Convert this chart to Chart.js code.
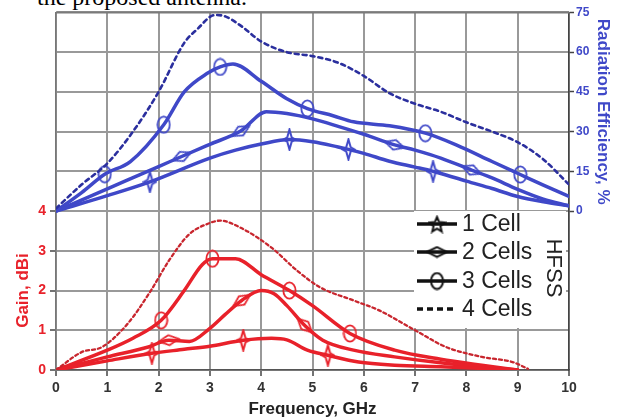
<!DOCTYPE html>
<html><head><meta charset="utf-8">
<script src="https://cdn.jsdelivr.net/npm/chart.js@4.4.1/dist/chart.umd.min.js"></script>
<style>
html,body{margin:0;padding:0;background:#fff;}
#wrap{position:relative;width:622px;height:420px;overflow:hidden;background:#fff;}
#cap{position:absolute;left:37px;top:-15px;font-family:"Liberation Serif","Times New Roman",serif;font-size:24px;line-height:24px;color:#000;white-space:nowrap;}
#c{position:absolute;left:0;top:0;}
</style></head><body>
<div id="wrap"><div id="cap">the proposed antenna.</div><canvas id="c" width="622" height="420"></canvas></div>
<script>
// ---- tick labels ----
const freqTicks = [0,1,2,3,4,5,6,7,8,9,10];
const gainTicks = [0,1,2,3,4];
const effTicks = [0,15,30,45,60,75];
const legendLabels = ['1 Cell','2 Cells','3 Cells','4 Cells'];
const xTitle = 'Frequency, GHz';
const gainTitle = 'Gain, dBi';
const effTitle = 'Radiation Efficiency, %';
const simLabel = 'HFSS';

// ---- Radiation efficiency (%) ----
const effFreq1 = [0, 1, 1.83, 3, 3.5, 4, 4.55, 5, 5.5, 5.7, 6, 6.5, 7, 7.35, 7.5, 8, 8.5, 9, 9.5, 10];
const eff1     = [0, 5.8, 11, 20, 23, 25.3, 27, 26.2, 24.2, 23.3, 21.8, 18.8, 16.6, 15, 14.2, 11.3, 8.5, 5.5, 3.5, 2];
const effMark1 = [1.83, 4.55, 5.7, 7.35];

const effFreq2 = [0, 1, 2, 2.45, 3, 3.6, 4.1, 4.5, 5, 5.5, 6, 6.6, 7, 7.5, 8.1, 8.5, 9, 9.5, 10];
const eff2     = [0, 8.4, 16.8, 20.6, 25.2, 30.2, 37.5, 36.8, 34.8, 32, 29, 25, 23, 20, 15.5, 12.5, 8.2, 4.5, 2];
const effMark2 = [2.45, 3.6, 6.6, 8.1];

const effFreq3 = [0, 0.5, 0.95, 1.45, 2.1, 2.5, 2.95, 3.2, 3.45, 4, 4.5, 4.9, 5.4, 5.8, 6.5, 7.2, 7.8, 8.5, 9.05, 9.5, 10];
const eff3     = [0, 7, 13.9, 18.7, 32.6, 45, 52, 54.4, 55.5, 49, 42.4, 38.7, 36, 33.7, 32.2, 29.4, 25, 18.7, 13.8, 9.8, 5.5];
const effMark3 = [0.95, 2.1, 3.2, 4.9, 7.2, 9.05];

const effFreq4 = [0, 0.5, 1, 1.5, 2, 2.5, 2.75, 3.1, 3.3, 3.6, 4, 4.5, 5, 5.5, 6, 6.5, 7, 7.5, 8, 8.5, 9, 9.5, 10];
const eff4     = [1, 10, 18, 30, 45, 63.5, 68.6, 74, 73.5, 70, 64, 60, 58.5, 56, 51, 44.5, 40.5, 37.5, 33.5, 30, 26, 19.5, 10];

// ---- Gain (dBi) ----
const gainFreq1 = [0, 1, 1.87, 2.5, 3, 3.65, 4.2, 4.5, 4.9, 5.3, 5.9, 6.6, 7.5, 8.3, 9];
const gain1     = [0, 0.23, 0.42, 0.52, 0.6, 0.75, 0.8, 0.76, 0.5, 0.37, 0.2, 0.12, 0.08, 0.04, 0];
const gainMark1 = [1.87, 3.65, 5.3];

const gainFreq2 = [0, 1, 1.8, 2.2, 2.6, 3, 3.3, 3.62, 4, 4.25, 4.5, 4.85, 5.2, 5.8, 6.6, 7.5, 8.3, 9];
const gain2     = [0, 0.33, 0.58, 0.75, 0.72, 1.05, 1.4, 1.75, 2.0, 1.92, 1.62, 1.12, 0.75, 0.5, 0.33, 0.18, 0.08, 0];
const gainMark2 = [2.2, 3.62, 4.85];

const gainFreq3 = [0, 1, 1.5, 2.05, 2.5, 2.85, 3.05, 3.5, 4, 4.55, 5, 5.73, 6.6, 7.5, 8.3, 9];
const gain3     = [0, 0.5, 0.8, 1.25, 2.0, 2.65, 2.8, 2.8, 2.4, 2.0, 1.62, 0.92, 0.5, 0.27, 0.12, 0];
const gainMark3 = [2.05, 3.05, 4.55, 5.73];

const gainFreq4 = [0, 0.5, 0.9, 1.4, 1.85, 2.2, 2.6, 3.0, 3.2, 3.6, 4.2, 4.7, 5.15, 5.8, 6.3, 7.0, 7.6, 8.3, 8.9, 9.2];
const gain4     = [0, 0.45, 0.58, 1.17, 2.0, 2.75, 3.42, 3.7, 3.76, 3.58, 3.08, 2.5, 2.08, 1.75, 1.5, 1.0, 0.58, 0.33, 0.2, 0.03];

// ---- styles ----
const BLUE = '#3f48c8', BLUE_D = '#2b2f9e', RED = '#e8212a', RED_D = '#c8262e';
const GRID = '#999999', AXIS = '#555';
const FONT = '"Liberation Sans", Arial, sans-serif';

function makeMarker(shape, color, lw) {
  const c = document.createElement('canvas');
  let w, h;
  if (shape === 'circle') { w = 15; h = 19; }
  else if (shape === 'diamond') { w = 23; h = 13; }
  else if (shape === 'star4') { w = 15; h = 23; }
  else { w = 19; h = 19; }
  c.width = w; c.height = h;
  const g = c.getContext('2d');
  g.strokeStyle = color; g.lineWidth = lw; g.lineJoin = 'miter';
  g.beginPath();
  const cx = w / 2, cy = h / 2, p = lw / 2 + 0.5;
  if (shape === 'circle') {
    g.ellipse(cx, cy, cx - p, cy - p, 0, 0, Math.PI * 2);
  } else if (shape === 'diamond') {
    g.moveTo(p, cy); g.lineTo(cx, p); g.lineTo(w - p, cy); g.lineTo(cx, h - p); g.closePath();
  } else if (shape === 'star4') {
    const r = 2.2;
    g.moveTo(cx, p); g.lineTo(cx + r, cy - r); g.lineTo(w - p, cy); g.lineTo(cx + r, cy + r);
    g.lineTo(cx, h - p); g.lineTo(cx - r, cy + r); g.lineTo(p, cy); g.lineTo(cx - r, cy - r); g.closePath();
  } else {
    const R = w / 2 - p, r = R * 0.45;
    for (let i = 0; i < 10; i++) {
      const a = -Math.PI / 2 + i * Math.PI / 5;
      const rr = i % 2 ? r : R;
      const x = cx + rr * Math.cos(a), y = cy + 1 + rr * Math.sin(a);
      i ? g.lineTo(x, y) : g.moveTo(x, y);
    }
    g.closePath();
  }
  g.stroke();
  return c;
}

const mk = {
  bStar: makeMarker('star4', BLUE, 2), bDia: makeMarker('diamond', BLUE, 1.8), bCirc: makeMarker('circle', BLUE, 1.8),
  rStar: makeMarker('star4', RED, 2), rDia: makeMarker('diamond', RED, 1.8), rCirc: makeMarker('circle', RED, 1.8),
  kStar: makeMarker('star5', '#111', 2), kDia: makeMarker('diamond', '#111', 2), kCirc: makeMarker('circle', '#111', 2)
};

function slopeRotation(ctx) {
  const d = ctx.dataset.data, i = ctx.dataIndex;
  const a = d[Math.max(0, i - 1)], b = d[Math.min(d.length - 1, i + 1)];
  const sx = ctx.chart.scales.x, sy = ctx.chart.scales[ctx.dataset.yAxisID];
  if (!sx || !sy) return 0;
  const dx = sx.getPixelForValue(b.x) - sx.getPixelForValue(a.x);
  const dy = sy.getPixelForValue(b.y) - sy.getPixelForValue(a.y);
  return Math.atan2(dy, dx) * 180 / Math.PI;
}

function series(freqs, vals, axis, color, opts) {
  const marks = opts.marks || [];
  return {
    data: freqs.map((f, i) => ({ x: f, y: vals[i] })),
    yAxisID: axis,
    borderColor: color,
    borderWidth: opts.lw || 3.5,
    borderDash: opts.dash || [],
    borderCapStyle: 'round',
    borderJoinStyle: 'round',
    fill: false,
    cubicInterpolationMode: 'monotone',
    pointStyle: opts.marker || false,
    pointRadius: ctx => (ctx.raw && marks.some(m => Math.abs(m - ctx.raw.x) < 1e-6)) ? 6 : 0,
    pointHoverRadius: 0,
    pointRotation: opts.rotate ? slopeRotation : 0
  };
}

const datasets = [
  series(effFreq4, eff4, 'yE', BLUE_D, { dash: [4, 4], lw: 2.6 }),
  series(gainFreq4, gain4, 'yG', RED_D, { dash: [3, 3], lw: 2.3 }),
  series(effFreq1, eff1, 'yE', BLUE, { marker: mk.bStar, marks: effMark1 }),
  series(effFreq2, eff2, 'yE', BLUE, { marker: mk.bDia, marks: effMark2, rotate: true }),
  series(effFreq3, eff3, 'yE', BLUE, { marker: mk.bCirc, marks: effMark3 }),
  series(gainFreq1, gain1, 'yG', RED, { marker: mk.rStar, marks: gainMark1 }),
  series(gainFreq2, gain2, 'yG', RED, { marker: mk.rDia, marks: gainMark2, rotate: true }),
  series(gainFreq3, gain3, 'yG', RED, { marker: mk.rCirc, marks: gainMark3 })
];

const decor = {
  id: 'decor',
  beforeDatasetsDraw(chart) {
    const { ctx, chartArea: a } = chart;
    ctx.save();
    ctx.strokeStyle = '#7a7a7a'; ctx.lineWidth = 2;
    ctx.beginPath(); ctx.moveTo(a.left, a.top); ctx.lineTo(a.right, a.top); ctx.stroke();
    ctx.restore();
  },
  afterDraw(chart) {
    const { ctx } = chart;
    const sx = chart.scales.x, sg = chart.scales.yG, se = chart.scales.yE;
    ctx.save();
    ctx.fillStyle = '#fff';
    ctx.fillRect(414, 211, 152, 117);
    const ys = [224, 252, 281, 309];
    const mks = [mk.kStar, mk.kDia, mk.kCirc, null];
    legendLabels.forEach((lab, i) => {
      const y = ys[i];
      ctx.strokeStyle = '#111'; ctx.lineWidth = 3.5;
      ctx.setLineDash(i === 3 ? [6, 4] : []);
      ctx.beginPath(); ctx.moveTo(417, y); ctx.lineTo(457, y); ctx.stroke();
      ctx.setLineDash([]);
      if (mks[i]) ctx.drawImage(mks[i], 437 - mks[i].width / 2, y - mks[i].height / 2);
      ctx.fillStyle = '#222'; ctx.font = '23px ' + FONT;
      ctx.textAlign = 'left'; ctx.textBaseline = 'middle';
      ctx.fillText(lab, 462, y + 1);
    });
    ctx.save();
    ctx.translate(553, 268); ctx.rotate(Math.PI / 2);
    ctx.fillStyle = '#222'; ctx.font = '22px ' + FONT; ctx.textAlign = 'center'; ctx.textBaseline = 'middle';
    ctx.fillText(simLabel, 0, 0);
    ctx.restore();
    ctx.font = 'bold 17px ' + FONT; ctx.textAlign = 'center'; ctx.textBaseline = 'middle';
    ctx.fillStyle = '#222';
    ctx.fillText(xTitle, sx.getPixelForValue(5), 409);
    ctx.save();
    ctx.translate(23, sg.getPixelForValue(2)); ctx.rotate(-Math.PI / 2);
    ctx.fillStyle = RED; ctx.fillText(gainTitle, 0, 0);
    ctx.restore();
    ctx.save();
    ctx.translate(603, se.getPixelForValue(37.5)); ctx.rotate(Math.PI / 2);
    ctx.fillStyle = BLUE; ctx.fillText(effTitle, 0, 0);
    ctx.restore();
    ctx.restore();
  }
};

new Chart(document.getElementById('c'), {
  type: 'line',
  data: { datasets },
  options: {
    responsive: false,
    devicePixelRatio: 1,
    animation: false,
    events: [],
    layout: { padding: { top: 10, left: 0, right: 0, bottom: 0 } },
    plugins: { legend: { display: false }, tooltip: { enabled: false } },
    scales: {
      x: {
        type: 'linear', min: 0, max: 10,
        afterFit: s => { s.height = 50; },
        afterBuildTicks: s => { s.ticks = freqTicks.map(v => ({ value: v })); },
        ticks: { color: '#333', font: { family: FONT, size: 14, weight: 'bold' }, padding: 4, maxRotation: 0 },
        grid: { color: GRID, lineWidth: 2, drawOnChartArea: true, tickLength: 6, tickColor: '#444', tickWidth: 1.5 },
        border: { color: AXIS, width: 1.5 }
      },
      yG: {
        type: 'linear', position: 'left', min: 0, max: 9,
        afterFit: s => { s.width = 56; },
        ticks: {
          stepSize: 1,
          callback: v => gainTicks.includes(v) ? String(v) : '',
          color: RED, font: { family: FONT, size: 14, weight: 'bold' }, padding: 4
        },
        grid: {
          color: GRID, lineWidth: 2, drawOnChartArea: true, tickLength: 6, tickWidth: 1.5,
          tickColor: c => (c.tick && gainTicks.includes(c.tick.value)) ? '#444' : 'rgba(0,0,0,0)'
        },
        border: { color: '#777', width: 1.5 }
      },
      yE: {
        type: 'linear', position: 'right', min: -60, max: 75,
        afterFit: s => { s.width = 53; },
        ticks: {
          stepSize: 15,
          callback: v => effTicks.includes(v) ? String(v) : '',
          color: BLUE, font: { family: FONT, size: 12, weight: 'bold' }, padding: 2
        },
        grid: {
          drawOnChartArea: false, tickLength: 5, tickWidth: 1.5,
          tickColor: c => (c.tick && effTicks.includes(c.tick.value)) ? '#444' : 'rgba(0,0,0,0)'
        },
        border: { color: '#444', width: 1.5 }
      }
    }
  },
  plugins: [decor]
});
</script>
</body></html>
